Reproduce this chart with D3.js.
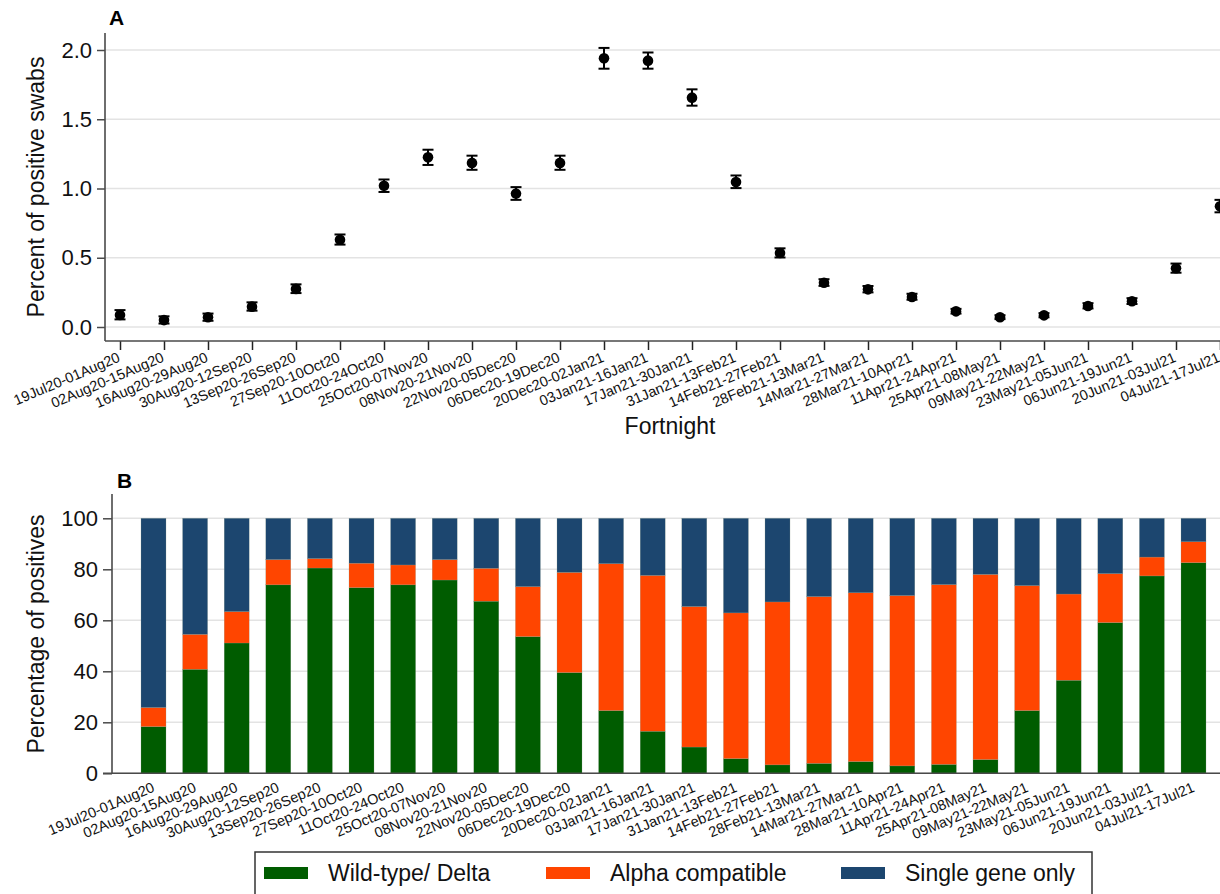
<!doctype html>
<html lang="en">
<head>
  <meta charset="utf-8" />
  <title>Positive swabs by fortnight</title>
  <script src="https://cdn.jsdelivr.net/npm/d3@7"></script>
  <style>
    body { margin: 0; background: #fff; }
    svg { font-family: "Liberation Sans", Arial, sans-serif; }
  </style>
</head>
<body>
  <svg id="chart" width="1220" height="894"></svg>
  <script>
    const fortnights = ["19Jul20-01Aug20", "02Aug20-15Aug20", "16Aug20-29Aug20", "30Aug20-12Sep20",
      "13Sep20-26Sep20", "27Sep20-10Oct20", "11Oct20-24Oct20", "25Oct20-07Nov20", "08Nov20-21Nov20",
      "22Nov20-05Dec20", "06Dec20-19Dec20", "20Dec20-02Jan21", "03Jan21-16Jan21", "17Jan21-30Jan21",
      "31Jan21-13Feb21", "14Feb21-27Feb21", "28Feb21-13Mar21", "14Mar21-27Mar21", "28Mar21-10Apr21",
      "11Apr21-24Apr21", "25Apr21-08May21", "09May21-22May21", "23May21-05Jun21", "06Jun21-19Jun21",
      "20Jun21-03Jul21", "04Jul21-17Jul21"];

    // panel A: percent positive with 95% CI
    const pctPositive = [0.087, 0.05, 0.07, 0.147, 0.275, 0.63, 1.02, 1.225, 1.185, 0.963, 1.185, 1.94,
      1.923, 1.656, 1.047, 0.534, 0.32, 0.272, 0.217, 0.113, 0.07, 0.084, 0.152, 0.186, 0.424, 0.872];
    const ciLow = [0.055, 0.025, 0.045, 0.118, 0.245, 0.595, 0.975, 1.17, 1.135, 0.918, 1.135, 1.865,
      1.865, 1.598, 1.003, 0.502, 0.297, 0.25, 0.197, 0.097, 0.057, 0.07, 0.134, 0.166, 0.392, 0.828];
    const ciHigh = [0.122, 0.077, 0.097, 0.178, 0.308, 0.668, 1.065, 1.28, 1.237, 1.01, 1.237, 2.015,
      1.982, 1.716, 1.094, 0.568, 0.345, 0.296, 0.24, 0.131, 0.085, 0.1, 0.172, 0.208, 0.458, 0.918];
    const yTicksA = [0, 0.5, 1, 1.5, 2];

    // panel B: percentage of positives by gene pattern
    const wildDelta = [18.3, 40.8, 51.1, 73.9, 80.5, 72.8, 73.9, 75.8, 67.5, 53.6, 39.5, 24.6, 16.5,
      10.3, 5.75, 3.3, 3.9, 4.6, 2.9, 3.5, 5.4, 24.6, 36.5, 59.1, 77.4, 82.6];
    const alphaCompat = [7.5, 13.7, 12.3, 9.9, 3.7, 9.6, 7.8, 8.0, 12.9, 19.6, 39.3, 57.6, 61.1,
      55.1, 57.15, 63.9, 65.4, 66.2, 66.8, 70.5, 72.6, 49.0, 33.8, 19.2, 7.4, 8.2];
    const singleGene = wildDelta.map((d, i) => +(100 - d - alphaCompat[i]).toFixed(2));
    const yTicksB = [0, 20, 40, 60, 80, 100];

    const seriesNames = ["Wild-type/ Delta", "Alpha compatible", "Single gene only"];
    const seriesColors = ["#005c00", "#ff4500", "#1c466f"];

    const svg = d3.select("#chart");
    const axisColor = "#4a4a4a";
    const gridColor = "#e3e3e3";

    // ---------- Panel A ----------
    const xA = d3.scalePoint().domain(fortnights).range([120, 1220]);
    const yA = d3.scaleLinear().domain([0, 2]).range([327, 50]);
    const gA = svg.append("g");

    gA.append("g")
      .selectAll("line")
      .data(yTicksA)
      .join("line")
      .attr("x1", 105).attr("x2", 1220)
      .attr("y1", d => yA(d)).attr("y2", d => yA(d))
      .attr("stroke", gridColor).attr("stroke-width", 1.6);

    const axA = gA.append("g")
      .attr("transform", "translate(105,0)")
      .call(d3.axisLeft(yA).tickValues(yTicksA).tickFormat(d3.format(".1f")).tickSize(8).tickPadding(5));
    axA.select(".domain").remove();
    axA.selectAll(".tick line").attr("stroke", axisColor).attr("stroke-width", 1.5);
    axA.selectAll("text").attr("font-size", 22).attr("fill", "#111").attr("font-family", null);
    gA.append("line").attr("x1", 105).attr("x2", 105).attr("y1", 33).attr("y2", 341)
      .attr("stroke", axisColor).attr("stroke-width", 1.6);

    const axAx = gA.append("g")
      .attr("transform", "translate(0,341)")
      .call(d3.axisBottom(xA).tickSize(9).tickFormat(""));
    axAx.select(".domain").remove();
    axAx.selectAll(".tick line").attr("stroke", "#222").attr("stroke-width", 1.5);
    gA.append("line").attr("x1", 105).attr("x2", 1220).attr("y1", 341).attr("y2", 341)
      .attr("stroke", axisColor).attr("stroke-width", 1.6);

    gA.append("g")
      .selectAll("text")
      .data(fortnights)
      .join("text")
      .attr("transform", d => `translate(${xA(d) + 1},${361}) rotate(-23)`)
      .attr("text-anchor", "end")
      .attr("font-size", 14.5)
      .attr("fill", "#111")
      .text(d => d);

    const pts = fortnights.map((f, i) => ({ f, v: pctPositive[i], lo: ciLow[i], hi: ciHigh[i] }));
    const eb = gA.append("g").attr("stroke", "#000").attr("stroke-width", 2);
    eb.selectAll("line.v").data(pts).join("line").attr("class", "v")
      .attr("x1", d => xA(d.f)).attr("x2", d => xA(d.f))
      .attr("y1", d => yA(d.lo)).attr("y2", d => yA(d.hi));
    eb.selectAll("line.lo").data(pts).join("line").attr("class", "lo")
      .attr("x1", d => xA(d.f) - 5.5).attr("x2", d => xA(d.f) + 5.5)
      .attr("y1", d => yA(d.lo)).attr("y2", d => yA(d.lo));
    eb.selectAll("line.hi").data(pts).join("line").attr("class", "hi")
      .attr("x1", d => xA(d.f) - 5.5).attr("x2", d => xA(d.f) + 5.5)
      .attr("y1", d => yA(d.hi)).attr("y2", d => yA(d.hi));
    gA.append("g").selectAll("circle").data(pts).join("circle")
      .attr("cx", d => xA(d.f)).attr("cy", d => yA(d.v)).attr("r", 5.3).attr("fill", "#000");

    gA.append("text").attr("x", 109).attr("y", 25).attr("font-size", 21).attr("font-weight", "bold").text("A");
    gA.append("text")
      .attr("transform", `translate(44,${187}) rotate(-90)`)
      .attr("text-anchor", "middle").attr("font-size", 23).attr("fill", "#111")
      .text("Percent of positive swabs");
    gA.append("text").attr("x", 670).attr("y", 434).attr("text-anchor", "middle")
      .attr("font-size", 23).attr("fill", "#111").text("Fortnight");

    // ---------- Panel B ----------
    const xB = d3.scalePoint().domain(fortnights).range([153.5, 1193.5]);
    const barW = 25;
    const yB = d3.scaleLinear().domain([0, 100]).range([773.3, 518.3]);
    const gB = svg.append("g");

    gB.append("g")
      .selectAll("line")
      .data(yTicksB)
      .join("line")
      .attr("x1", 112).attr("x2", 1220)
      .attr("y1", d => yB(d)).attr("y2", d => yB(d))
      .attr("stroke", gridColor).attr("stroke-width", 1.6);

    const rows = fortnights.map((f, i) => ({ f, wild: wildDelta[i], alpha: alphaCompat[i], single: singleGene[i] }));
    const stack = d3.stack().keys(["wild", "alpha", "single"])(rows);
    gB.append("g")
      .selectAll("g")
      .data(stack)
      .join("g")
      .attr("fill", (d, i) => seriesColors[i])
      .selectAll("rect")
      .data(d => d)
      .join("rect")
      .attr("x", d => xB(d.data.f) - barW / 2)
      .attr("width", barW)
      .attr("y", d => yB(d[1]))
      .attr("height", d => yB(d[0]) - yB(d[1]))
      .attr("stroke", "#8a9a8a").attr("stroke-width", 0.4).attr("stroke-opacity", 0.6);

    const axB = gB.append("g")
      .attr("transform", "translate(112,0)")
      .call(d3.axisLeft(yB).tickValues(yTicksB).tickSize(9).tickPadding(5));
    axB.select(".domain").remove();
    axB.selectAll(".tick line").attr("stroke", axisColor).attr("stroke-width", 1.5);
    axB.selectAll("text").attr("font-size", 22).attr("fill", "#111").attr("font-family", null);
    gB.append("line").attr("x1", 112).attr("x2", 112).attr("y1", 494).attr("y2", 773.3)
      .attr("stroke", axisColor).attr("stroke-width", 1.6);
    gB.append("line").attr("x1", 103).attr("x2", 1220).attr("y1", 773.3).attr("y2", 773.3)
      .attr("stroke", axisColor).attr("stroke-width", 1.6);

    gB.append("g")
      .selectAll("text")
      .data(fortnights)
      .join("text")
      .attr("transform", d => `translate(${xB(d) + 2},${791}) rotate(-23)`)
      .attr("text-anchor", "end")
      .attr("font-size", 14.5)
      .attr("fill", "#111")
      .text(d => d);

    gB.append("text").attr("x", 117).attr("y", 488).attr("font-size", 21).attr("font-weight", "bold").text("B");
    gB.append("text")
      .attr("transform", `translate(44,${634}) rotate(-90)`)
      .attr("text-anchor", "middle").attr("font-size", 23).attr("fill", "#111")
      .text("Percentage of positives");

    // legend
    const lg = svg.append("g");
    lg.append("rect").attr("x", 255).attr("y", 852).attr("width", 837).attr("height", 50)
      .attr("fill", "#fff").attr("stroke", "#333").attr("stroke-width", 1.5);
    const legendX = [264, 546, 841];
    const items = lg.selectAll("g").data(seriesNames).join("g")
      .attr("transform", (d, i) => `translate(${legendX[i]},0)`);
    items.append("rect").attr("x", 0).attr("y", 867).attr("width", 44).attr("height", 12)
      .attr("fill", (d, i) => seriesColors[i]);
    items.append("text").attr("x", 64).attr("y", 881).attr("font-size", 23).attr("fill", "#111")
      .text(d => d);
  </script>
</body>
</html>
